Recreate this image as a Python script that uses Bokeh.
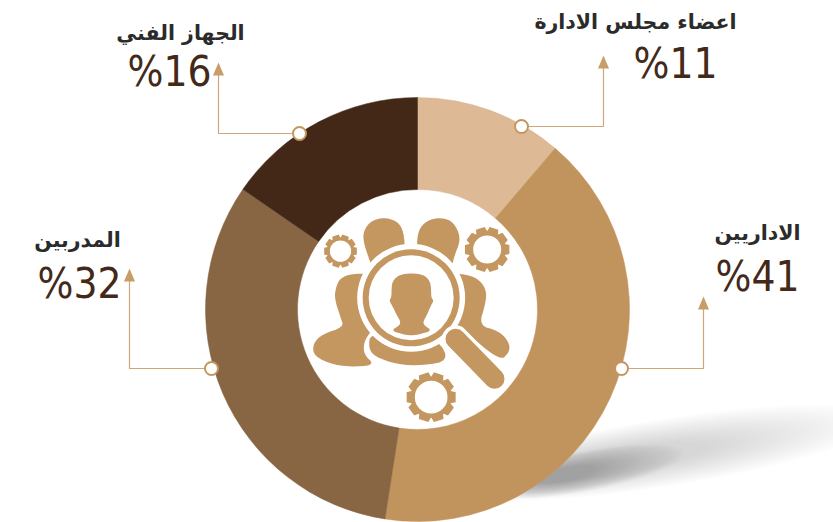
import numpy as np
from bokeh.plotting import figure
from bokeh.models import Range1d
from bokeh.core.properties import value
from bokeh.embed import file_html
from bokeh.resources import INLINE

categories = ["اعضاء مجلس الادارة", "الاداريين", "المدربين", "الجهاز الفني"]
values = [11, 41, 32, 16]
slice_shares = [11.25, 41.2, 32.15, 15.4]   # shares as actually drawn, read from the ring's boundaries
colors = ["#deb995", "#c2945d", "#886543", "#432817"]

W, H = 833, 522
TAN = "#c49660"
def Y(py):
    return H - np.asarray(py, dtype=float)

p = figure(width=W, height=H, x_range=Range1d(0, W), y_range=Range1d(0, H),
           output_backend="svg", toolbar_location=None, min_border=0,
           outline_line_color=None, background_fill_color="white",
           margin=(-8, 0, 0, -8), styles={"position": "absolute", "top": "8px", "left": "8px"})
p.axis.visible = False
p.grid.visible = False

# soft shadow below the ring
for t in np.linspace(0, 1, 40):
    p.ellipse(665 - 60 * t, Y(452 + 10 * t), width=450 - 240 * t, height=68 - 42 * t,
              angle=np.radians(9), fill_color="#72757b", fill_alpha=0.008, line_color=None)
for t in np.linspace(0, 1, 25):
    p.ellipse(585 - 20 * t, Y(471 + 3 * t), width=200 - 140 * t, height=40 - 26 * t,
              angle=np.radians(11), fill_color="#72757b", fill_alpha=0.021, line_color=None)

# ring
CX, CY, R_OUT, R_IN = 417, 309, 212, 120
frac = np.array(slice_shares) / sum(slice_shares)
ends = np.cumsum(frac)
starts = ends - frac
p.annular_wedge(x=[CX] * 4, y=[Y(CY)] * 4, inner_radius=R_IN, outer_radius=R_OUT,
                start_angle=list(np.pi / 2 - ends * 2 * np.pi),
                end_angle=list(np.pi / 2 - starts * 2 * np.pi),
                direction="anticlock", fill_color=colors, line_color=colors, line_width=0.5)

# icon, outlines in 3x zoomed coordinates of the centre panel
def zx(a): return [290 + v / 3 for v in a]
def zy(a): return [float(Y(200 + v / 3)) for v in a]
def smooth(a, n=2):
    for _ in range(n):
        b = np.roll(a, -1, axis=0)
        a = np.column_stack([0.75 * a + 0.25 * b, 0.25 * a + 0.75 * b]).reshape(-1, 2)
    return a
def poly(points, color=TAN):
    a = smooth(np.array(points, dtype=float))
    p.patch(zx(a[:, 0]), zy(a[:, 1]), fill_color=color, line_color=None)

poly([(218,120),(220,90),(240,62),(280,50),(322,63),(340,95),(344,160),(300,220),(245,200),(232,165)])
poly([(380,100),(400,66),(440,50),(484,60),(505,95),(508,125),(492,165),(484,198),(430,220),(380,160)])
poly([(132,295),(136,260),(150,232),(185,220),(240,220),(280,300),(260,380),(240,393),(220,425),(220,462),
      (252,492),(200,499),(130,494),(70,467),(67,430),(95,401),(160,380),(150,350)])
poly([(490,220),(530,222),(567,238),(588,270),(585,310),(565,375),(624,391),(655,423),(658,454),(628,482),
      (515,385),(450,340),(450,280)])
poly([(240,398),(234,440),(250,467),(320,492),(400,495),(475,480),(445,420),(360,400)])

LX, LY = 290 + 362 / 3, 200 + 292 / 3
p.circle(LX, Y(LY), radius=54, fill_color="white", line_color=None)
p.circle(LX, Y(LY), radius=48.5, fill_color=TAN, line_color=None)
p.circle(LX, Y(LY), radius=42.5, fill_color="white", line_color=None)
poly([(362,218),(398,222),(418,240),(422,265),(422,292),(430,300),(420,317),(410,342),(397,365),(403,376),
      (424,390),(390,401),(362,405),(335,401),(302,390),(325,376),(331,365),(318,342),(306,317),(296,300),
      (303,290),(303,262),(307,240),(328,222)])
p.line(zx([495, 612]), zy([415, 535]), line_color="white", line_width=27, line_cap="round")
p.line(zx([495, 612]), zy([415, 535]), line_color=TAN, line_width=20, line_cap="round")

def gear(zcx, zcy, r_tip, r_body, r_hole, teeth):
    xs, ys = [], []
    step = 2 * np.pi / teeth
    for i in range(teeth):
        a = i * step
        for da, r in [(-0.30, r_body), (-0.20, r_tip), (0.20, r_tip), (0.30, r_body)]:
            xs.append(zcx + r * np.cos(a + da * step * 1.6))
            ys.append(zcy + r * np.sin(a + da * step * 1.6))
    p.patch(zx(xs), zy(ys), fill_color=TAN, line_color=None)
    p.circle(290 + zcx / 3, Y(200 + zcy / 3), radius=r_hole / 3, fill_color="white", line_color=None)

gear(150, 152, 50, 41, 32, 10)
gear(590, 147, 68, 56, 42, 10)
gear(422, 590, 75, 62, 49, 10)

# connectors: dot, elbow, arrow tip
LINE = "#cda77a"
dots = [(521, 126), (621, 368), (211, 368), (299, 133)]
elbows = [603, 703, 129, 218]
tips = [55, 296, 268, 62]
for (dx, dy), ex, ty in zip(dots, elbows, tips):
    p.line([dx, ex, ex], Y([dy, dy, ty + 8]), line_color=LINE, line_width=1.2)
    p.patch([ex - 5.5, ex, ex + 5.5], Y([ty + 13, ty, ty + 13]), fill_color="#c89d68", line_color=None)
    p.circle(dx, Y(dy), radius=6.5, fill_color="white", line_color=TAN, line_width=2)

# labels
label_x = [635, 757, 77, 180]
label_y = [21, 232, 239, 32]
num_x = [675, 757, 79, 169]
num_y = [63, 276, 283, 71]
p.text(label_x, Y(label_y), text=categories, text_font=value("DejaVu Sans"), text_font_style="bold",
       text_font_size="20.5px", text_align="center", text_baseline="middle", text_color="#2b2b2b")
p.text(num_x, Y(num_y), text=[f"%{v}" for v in values], text_font=value("DejaVu Sans Condensed"),
       text_font_size="42px", text_align="center", text_baseline="middle", text_color="#43291a")

open("out.html", "w").write(file_html(p, INLINE))
